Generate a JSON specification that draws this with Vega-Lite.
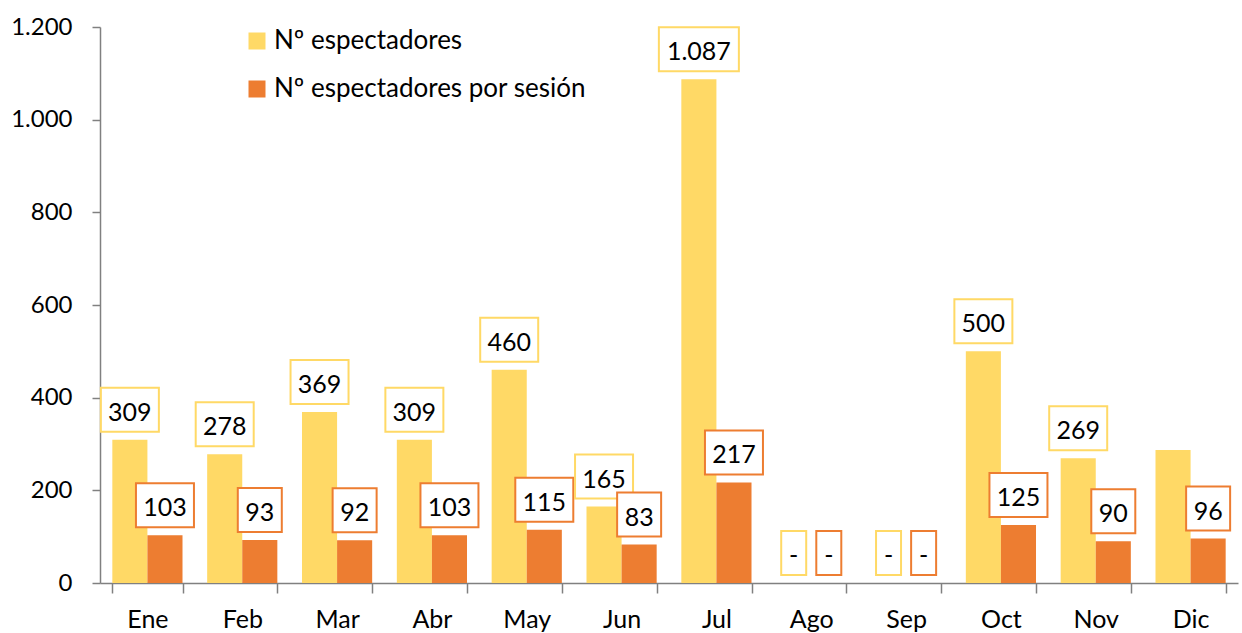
{
  "$schema": "https://vega.github.io/schema/vega-lite/v6.json",
  "width": 1138,
  "height": 556,
  "autosize": {"type": "none"},
  "padding": {"left": 100, "top": 27, "right": 4, "bottom": 50},
  "config": {
    "view": {"stroke": null},
    "font": "Lato",
    "locale": {"number": {"decimal": ",", "thousands": ".", "grouping": [3], "currency": ["", " €"]}}
  },
  "data": {
    "values": [
      {"mes": "Ene", "serie": "Nº espectadores", "valor": 309, "etiqueta": "309"},
      {"mes": "Ene", "serie": "Nº espectadores por sesión", "valor": 103, "etiqueta": "103"},
      {"mes": "Feb", "serie": "Nº espectadores", "valor": 278, "etiqueta": "278"},
      {"mes": "Feb", "serie": "Nº espectadores por sesión", "valor": 93, "etiqueta": "93"},
      {"mes": "Mar", "serie": "Nº espectadores", "valor": 369, "etiqueta": "369"},
      {"mes": "Mar", "serie": "Nº espectadores por sesión", "valor": 92, "etiqueta": "92"},
      {"mes": "Abr", "serie": "Nº espectadores", "valor": 309, "etiqueta": "309"},
      {"mes": "Abr", "serie": "Nº espectadores por sesión", "valor": 103, "etiqueta": "103"},
      {"mes": "May", "serie": "Nº espectadores", "valor": 460, "etiqueta": "460"},
      {"mes": "May", "serie": "Nº espectadores por sesión", "valor": 115, "etiqueta": "115"},
      {"mes": "Jun", "serie": "Nº espectadores", "valor": 165, "etiqueta": "165"},
      {"mes": "Jun", "serie": "Nº espectadores por sesión", "valor": 83, "etiqueta": "83"},
      {"mes": "Jul", "serie": "Nº espectadores", "valor": 1087, "etiqueta": "1.087"},
      {"mes": "Jul", "serie": "Nº espectadores por sesión", "valor": 217, "etiqueta": "217"},
      {"mes": "Ago", "serie": "Nº espectadores", "valor": 0, "etiqueta": "-"},
      {"mes": "Ago", "serie": "Nº espectadores por sesión", "valor": 0, "etiqueta": "-"},
      {"mes": "Sep", "serie": "Nº espectadores", "valor": 0, "etiqueta": "-"},
      {"mes": "Sep", "serie": "Nº espectadores por sesión", "valor": 0, "etiqueta": "-"},
      {"mes": "Oct", "serie": "Nº espectadores", "valor": 500, "etiqueta": "500"},
      {"mes": "Oct", "serie": "Nº espectadores por sesión", "valor": 125, "etiqueta": "125"},
      {"mes": "Nov", "serie": "Nº espectadores", "valor": 269, "etiqueta": "269"},
      {"mes": "Nov", "serie": "Nº espectadores por sesión", "valor": 90, "etiqueta": "90"},
      {"mes": "Dic", "serie": "Nº espectadores", "valor": 287, "etiqueta": ""},
      {"mes": "Dic", "serie": "Nº espectadores por sesión", "valor": 96, "etiqueta": "96"}
    ]
  },
  "encoding": {
    "x": {
      "field": "mes", "type": "nominal", "sort": null, "title": null,
      "scale": {"paddingInner": 0.26, "paddingOuter": 0.13},
      "axis": {"labelAngle": 0, "labelFontSize": 25, "labelColor": "#000000", "domainColor": "#808080", "tickColor": "#808080", "tickSize": 10, "tickBand": "extent", "labelPadding": 14, "domainWidth": 1.5, "tickWidth": 1.5}
    },
    "xOffset": {"field": "serie", "type": "nominal", "sort": null, "scale": {"paddingInner": 0, "paddingOuter": 0}},
    "y": {
      "field": "valor", "type": "quantitative", "title": null,
      "scale": {"domain": [0, 1200], "nice": false},
      "axis": {"values": [0, 200, 400, 600, 800, 1000, 1200], "format": ",d", "grid": false, "labelFontSize": 24, "labelColor": "#000000", "domainColor": "#808080", "tickColor": "#808080", "tickSize": 8, "labelPadding": 20, "domainWidth": 1.5, "tickWidth": 1.5}
    }
  },
  "layer": [
    {
      "mark": {"type": "bar"},
      "encoding": {
        "color": {
          "field": "serie", "type": "nominal", "sort": null,
          "scale": {"domain": ["Nº espectadores", "Nº espectadores por sesión"], "range": ["#FFD966", "#ED7D31"]},
          "legend": {"title": null, "orient": "none", "legendX": 144, "legendY": 1, "direction": "vertical", "labelFontSize": 26, "labelColor": "#000000", "labelLimit": 0, "symbolType": "square", "symbolSize": 289, "symbolStrokeWidth": 0, "rowPadding": 22, "labelOffset": 4, "padding": 0}
        }
      }
    },
    {
      "transform": [
        {"filter": "datum.etiqueta != ''"},
        {"calculate": "toString(length(datum.etiqueta))", "as": "largo"}
      ],
      "mark": {"type": "point", "size": 4, "fill": "#ffffff", "fillOpacity": 1, "strokeWidth": 2, "yOffset": -30, "opacity": 1},
      "encoding": {
        "shape": {
          "field": "largo", "type": "nominal", "legend": null,
          "scale": {"domain": ["1", "2", "3", "5"], "range": ["M-12.5,-22H12.5V22H-12.5Z", "M-22,-22H22V22H-22Z", "M-29,-22H29V22H-29Z", "M-40,-22H40V22H-40Z"]}
        },
        "stroke": {
          "field": "serie", "type": "nominal", "sort": null, "legend": null,
          "scale": {"domain": ["Nº espectadores", "Nº espectadores por sesión"], "range": ["#FFD966", "#ED7D31"]}
        }
      }
    },
    {
      "transform": [{"filter": "datum.etiqueta != ''"}],
      "mark": {"type": "text", "fontSize": 25, "color": "#000000", "baseline": "middle", "align": "center", "yOffset": -27},
      "encoding": {
        "text": {"field": "etiqueta", "type": "nominal"}
      }
    }
  ]
}
